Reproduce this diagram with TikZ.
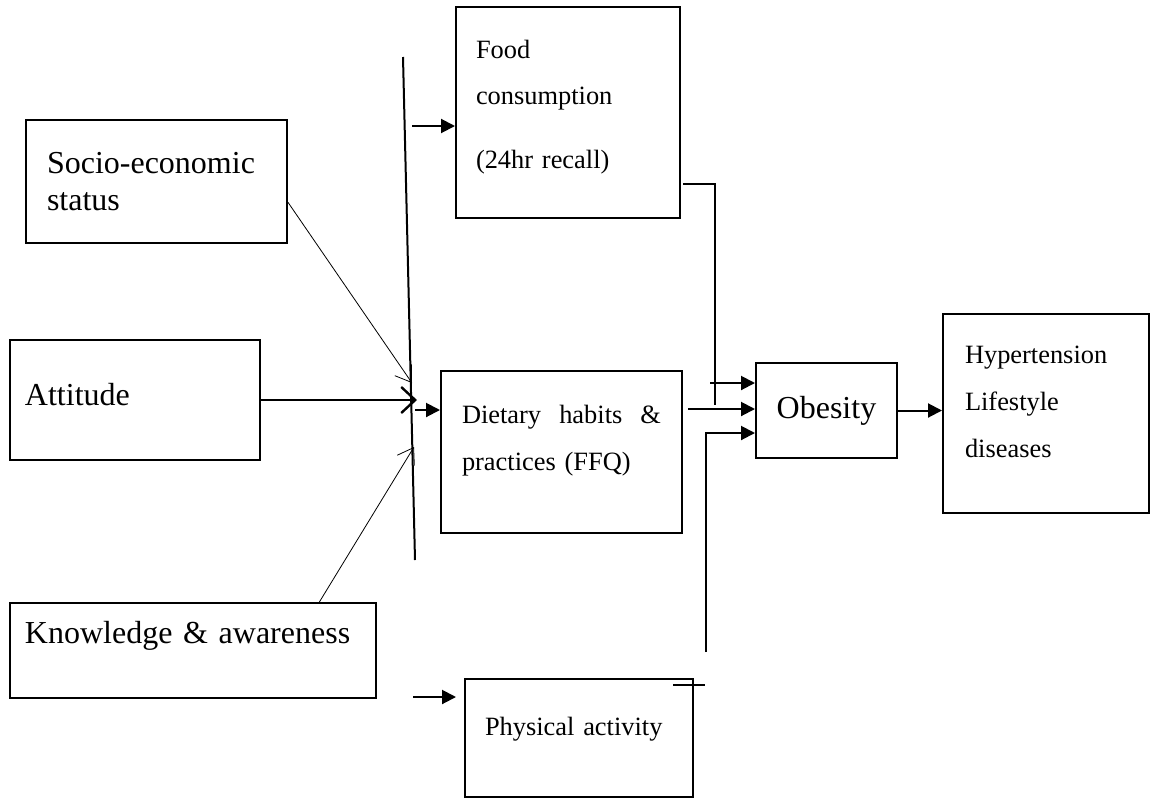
\documentclass[tikz,border=0pt]{standalone}
\usepackage{fontspec}
\setmainfont{Liberation Serif}
\usetikzlibrary{arrows.meta}
\newcommand{\bigtxt}{\fontsize{16}{18.5}\selectfont}
\newcommand{\smalltxt}{\fontsize{13.2}{16}\selectfont}

\begin{document}
\begin{tikzpicture}[x=0.5pt, y=-0.5pt,
    block/.style={draw, line width=1pt, inner ysep=0pt, align=left},
    flow/.style={line width=1pt, -{Triangle[length=7pt, width=7pt]}},
    feed/.style={line width=0.4pt, -{Straight Barb[length=7.5pt, width=10pt]}},
    push/.style={line width=1.2pt, -{Straight Barb[length=7pt, width=13pt]}}
]
    \useasboundingbox (0,0) rectangle (1151,798);

    \node[block, font=\bigtxt, minimum width=130.5pt, minimum height=61.5pt,
          inner xsep=10.5pt, text width=109.5pt] (socio) at (156.5,181.5)
          {Socio-economic\\status};
    \node[block, font=\bigtxt, minimum width=125pt, minimum height=60pt,
          inner xsep=7.5pt, text width=110pt, text depth=6pt] (attitude) at (135,400)
          {Attitude};
    \node[block, font=\bigtxt, minimum width=183pt, minimum height=47.5pt,
          inner xsep=7.5pt, text width=168pt, text depth=18.5pt] (knowledge) at (193,650.5)
          {Knowledge \& awareness};

    \node[block, font=\smalltxt, minimum width=112pt, minimum height=105.5pt,
          inner xsep=10pt, text width=92pt, text depth=63.5pt] (food) at (568,112.5)
          {Food\\[7pt]consumption\\[16pt](24hr recall)};
    \node[block, font=\smalltxt, minimum width=120.5pt, minimum height=81pt,
          inner xsep=10.5pt, text width=99.5pt, text depth=38pt] (diet) at (561.5,452)
          {Dietary\hfill habits\hfill \&\\[7.5pt]practices (FFQ)};
    \node[block, font=\smalltxt, minimum width=114pt, minimum height=59pt,
          inner xsep=10pt, text width=94pt, text depth=12pt] (phys) at (579,738)
          {Physical activity};

    \node[block, font=\bigtxt, align=center, minimum width=70.5pt,
          minimum height=47.5pt] (obesity) at (826.5,410.5) {Obesity};
    \node[block, font=\smalltxt, minimum width=103pt, minimum height=99.5pt,
          inner xsep=11pt, text width=81pt, text depth=58.5pt] (hyper) at (1046,413.5)
          {Hypertension\\[7.5pt]Lifestyle\\[7.5pt]diseases};

    \coordinate (bartop) at (403,57);
    \coordinate (barbot) at (415,560);
    \coordinate (sociohit) at (412,383);
    \coordinate (atthit) at (417,400);
    \coordinate (knowhit) at (414,447);
    \coordinate (foodin) at (412,126);
    \coordinate (dietin) at (415,410);
    \coordinate (physin) at (413,697);
    \coordinate (foodout) at (683,184);
    \coordinate (foodend) at (715,405);
    \coordinate (obin1) at (710,383);
    \coordinate (obin2) at (688,409);
    \coordinate (physup) at (706,652);
    \coordinate (obin3) at (706,433);
    \coordinate (stubL) at (673,685);
    \coordinate (stubR) at (705,685);

    \draw[line width=1pt] (bartop) -- (barbot);
    \draw[feed] (socio.-9) -- (sociohit);
    \draw[push] (attitude.east) -- (atthit);
    \draw[feed] (knowledge.21) -- (knowhit);

    \draw[flow] (foodin) -- (foodin -| food.west);
    \draw[flow] (dietin) -- (dietin -| diet.west);
    \draw[flow, shorten >=4pt] (physin) -- (physin -| phys.west);

    \draw[line width=1pt] (foodout) -| (foodend);
    \draw[flow] (obin1) -- (obin1 -| obesity.west);
    \draw[flow] (obin2) -- (obin2 -| obesity.west);
    \draw[flow] (physup) -- (obin3) -- (obin3 -| obesity.west);
    \draw[line width=1pt] (stubL) -- (stubR);

    \draw[flow] (obesity.east) -- (obesity.east -| hyper.west);
\end{tikzpicture}
\end{document}
